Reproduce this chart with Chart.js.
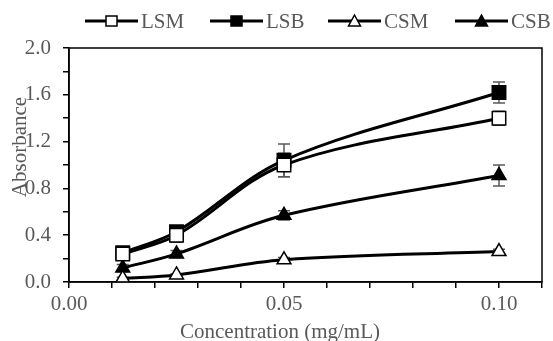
<!DOCTYPE html>
<html lang="en">

<head>
    <meta charset="UTF-8" />
    <title>Absorbance vs Concentration</title>
    <style>
        html, body { margin: 0; padding: 0; background: #fff; }
    </style>
</head>

<body>
    <canvas id="absChart" width="553" height="341"></canvas>

    <script src="https://cdn.jsdelivr.net/npm/chart.js"></script>

    <script>
        // data
        const concentrations = [0.0125, 0.025, 0.05, 0.1];
        const seriesNames = ['LSM', 'LSB', 'CSM', 'CSB'];
        const lsm = [0.24, 0.40, 1.00, 1.40];
        const lsb = [0.25, 0.43, 1.04, 1.62];
        const csm = [0.03, 0.06, 0.19, 0.26];
        const csb = [0.12, 0.24, 0.57, 0.91];
        const lsmErr = [0.03, 0.06, 0.10, 0.06];
        const lsbErr = [0.03, 0.05, 0.14, 0.09];
        const csmErr = [0.01, 0.01, 0.02, 0.02];
        const csbErr = [0.03, 0.03, 0.04, 0.09];
        const xTickLabels = ['0.00', '0.05', '0.10'];
        const yTickLabels = ['0.0', '0.4', '0.8', '1.2', '1.6', '2.0'];

        const FONT = "'Liberation Serif', 'Times New Roman', serif";
        const GREY = '#595959';

        const styles = [
            { shape: 'rect', fill: '#fff', radius: 9.5 },
            { shape: 'rect', fill: '#000', radius: 9.5 },
            { shape: 'triangle', fill: '#fff', radius: 8 },
            { shape: 'triangle', fill: '#000', radius: 8 }
        ];
        const values = [lsm, lsb, csm, csb];
        const errors = [lsmErr, lsbErr, csmErr, csbErr];

        const datasets = seriesNames.map((name, i) => ({
            label: name,
            data: concentrations.map((x, j) => ({ x: x, y: values[i][j] })),
            errors: errors[i],
            borderColor: '#000',
            borderWidth: 3,
            tension: 0.35,
            pointStyle: styles[i].shape,
            pointRadius: styles[i].radius,
            pointBackgroundColor: styles[i].fill,
            pointBorderColor: '#000',
            pointBorderWidth: 1.5,
            fill: false
        }));

        // error bars, drawn under the markers
        const errorBars = {
            id: 'errorBars',
            beforeDatasetsDraw(chart) {
                const { ctx, scales: { x, y } } = chart;
                ctx.save();
                ctx.strokeStyle = GREY;
                ctx.lineWidth = 1.5;
                chart.data.datasets.forEach(ds => {
                    ds.data.forEach((p, j) => {
                        const px = x.getPixelForValue(p.x);
                        const top = y.getPixelForValue(p.y + ds.errors[j]);
                        const bot = y.getPixelForValue(p.y - ds.errors[j]);
                        ctx.beginPath();
                        ctx.moveTo(px, top); ctx.lineTo(px, bot);
                        ctx.moveTo(px - 6, top); ctx.lineTo(px + 6, top);
                        ctx.moveTo(px - 6, bot); ctx.lineTo(px + 6, bot);
                        ctx.stroke();
                    });
                });
                ctx.restore();
            }
        };

        // box, axis titles and legend
        const decorations = {
            id: 'decorations',
            afterDraw(chart) {
                const { ctx, chartArea: a } = chart;
                ctx.save();
                ctx.strokeStyle = '#000';
                ctx.lineWidth = 1.5;
                ctx.strokeRect(a.left, a.top, a.right - a.left, a.bottom - a.top);

                ctx.fillStyle = GREY;
                ctx.font = '21px ' + FONT;
                ctx.textAlign = 'center';
                ctx.textBaseline = 'alphabetic';
                ctx.fillText('Concentration (mg/mL)', 280, 338);

                ctx.save();
                ctx.translate(26, 147);
                ctx.rotate(-Math.PI / 2);
                ctx.fillText('Absorbance', 0, 0);
                ctx.restore();

                // legend
                const starts = [85, 210, 328, 455];
                const ly = 21;
                ctx.textBaseline = 'middle';
                seriesNames.forEach((name, i) => {
                    const x0 = starts[i];
                    ctx.strokeStyle = '#000';
                    ctx.lineWidth = 3;
                    ctx.beginPath();
                    ctx.moveTo(x0, ly); ctx.lineTo(x0 + 53, ly);
                    ctx.stroke();
                    ctx.fillStyle = styles[i].fill;
                    ctx.lineWidth = 1.5;
                    ctx.beginPath();
                    if (styles[i].shape === 'rect') {
                        ctx.rect(x0 + 21, ly - 5, 11, 10);
                    } else {
                        ctx.moveTo(x0 + 26.5, ly - 6);
                        ctx.lineTo(x0 + 32.5, ly + 5);
                        ctx.lineTo(x0 + 20.5, ly + 5);
                        ctx.closePath();
                    }
                    ctx.fill();
                    ctx.stroke();
                    ctx.fillStyle = GREY;
                    ctx.textAlign = 'left';
                    ctx.fillText(name, x0 + 56, ly + 1);
                });
                ctx.restore();
            }
        };

        new Chart(document.getElementById('absChart'), {
            type: 'line',
            data: { datasets: datasets },
            options: {
                responsive: false,
                animation: false,
                layout: { padding: { top: 48, right: 9, left: 0, bottom: 0 } },
                plugins: {
                    legend: { display: false },
                    tooltip: { enabled: false }
                },
                scales: {
                    x: {
                        type: 'linear',
                        min: 0,
                        max: 0.11,
                        afterFit: (axis) => { axis.height = 59; },
                        afterBuildTicks: (axis) => {
                            axis.ticks = [];
                            for (let i = 0; i <= 11; i++) axis.ticks.push({ value: i / 100 });
                        },
                        ticks: {
                            color: GREY,
                            font: { family: FONT, size: 21 },
                            maxRotation: 0,
                            autoSkip: false,
                            padding: 4,
                            callback: (v, i) => (i % 5 === 0 ? xTickLabels[i / 5] || '' : '')
                        },
                        grid: { drawOnChartArea: false, color: '#000', tickLength: 6, lineWidth: 1.5 },
                        border: { color: '#000', width: 1.5 }
                    },
                    y: {
                        min: 0,
                        max: 2,
                        afterFit: (axis) => { axis.width = 69; },
                        afterBuildTicks: (axis) => {
                            axis.ticks = [];
                            for (let i = 0; i <= 10; i++) axis.ticks.push({ value: i / 5 });
                        },
                        ticks: {
                            color: GREY,
                            font: { family: FONT, size: 21 },
                            autoSkip: false,
                            padding: 12,
                            callback: (v, i) => (i % 2 === 0 ? yTickLabels[i / 2] : '')
                        },
                        grid: { drawOnChartArea: false, color: '#000', tickLength: 6, lineWidth: 1.5 },
                        border: { color: '#000', width: 1.5 }
                    }
                }
            },
            plugins: [errorBars, decorations]
        });
    </script>
</body>

</html>
